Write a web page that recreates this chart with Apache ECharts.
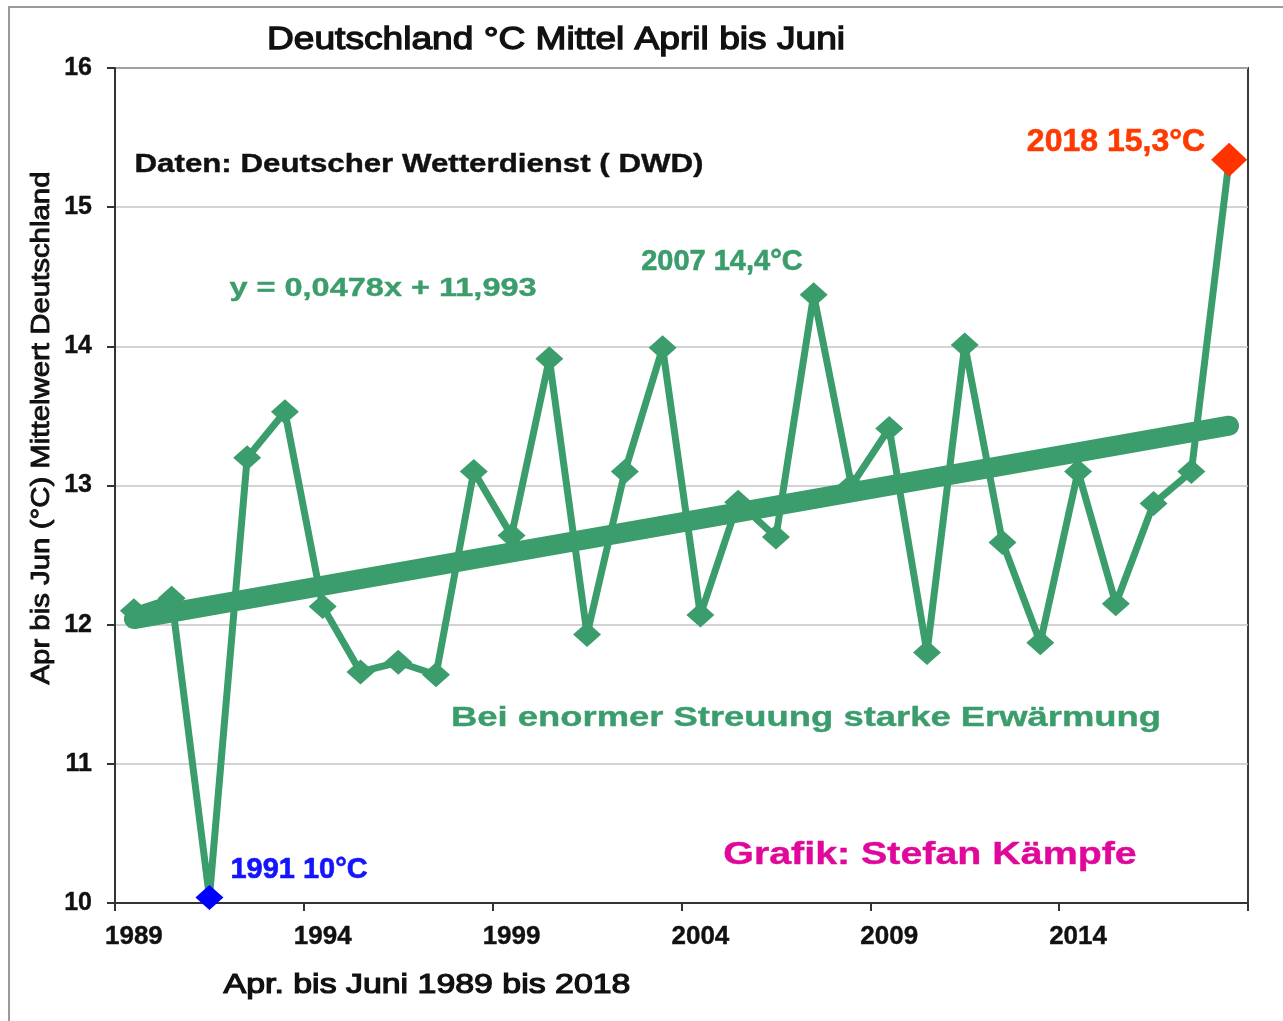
<!DOCTYPE html>
<html>
<head>
  <meta charset="utf-8">
  <title>Deutschland Mittel April bis Juni</title>
  <style>
html, body {
  margin: 0;
  padding: 0;
  background: #fff;
}

#chart {
  width: 1283px;
  height: 1021px;
}
  </style>
</head>
<body>
	<div id="chart"></div>

	<script src="https://cdn.jsdelivr.net/npm/echarts@6/dist/echarts.min.js"></script>
	<script>
	// Apr-Jun mean temperature in Germany (DWD), 1989-2018
	const years = ['1989', '1990', '1991', '1992', '1993', '1994', '1995', '1996', '1997', '1998',
		'1999', '2000', '2001', '2002', '2003', '2004', '2005', '2006', '2007', '2008',
		'2009', '2010', '2011', '2012', '2013', '2014', '2015', '2016', '2017', '2018'];
	const temps = [12.10, 12.19, 10.04, 13.20, 13.53, 12.13, 11.66, 11.73, 11.64, 13.10,
		12.64, 13.91, 11.93, 13.10, 13.99, 12.07, 12.88, 12.63, 14.37, 13.00,
		13.41, 11.80, 14.01, 12.59, 11.87, 13.10, 12.15, 12.87, 13.10, 15.34];

	// linear trend y = 0,0478x + 11,993, start and end values
	const trendYears = ['1989', '2018'];
	const trendValues = [12.04, 13.43];

	// annotated years
	const noteYears = ['1991', '2007', '2018'];
	const noteTexts = ['1991 10°C', '2007 14,4°C', '2018 15,3°C'];
	const noteColors = ['#1414ff', '#3b9d6b', '#ff3a00'];
	const noteMarkers = ['#0000ff', null, '#ff3300'];

	const yTicks = { min: 10, max: 16, step: 1 };

	const GREEN = '#3b9d6b';
	const FONT = '"Liberation Sans", Arial, sans-serif';

	const pointData = temps.map((v, i) => {
		const k = noteYears.indexOf(years[i]);
		if (k < 0) return v;
		const item = { value: v };
		if (noteMarkers[k]) item.itemStyle = { color: noteMarkers[k] };
		if (years[i] === '2018') item.symbolSize = [36, 34];
		const lbl = {
			show: true,
			formatter: noteTexts[k],
			color: noteColors[k],
			textBorderColor: noteColors[k],
			textBorderWidth: 0.6,
			fontFamily: FONT,
			fontWeight: 'bold',
			fontSize: 29
		};
		if (years[i] === '1991') Object.assign(lbl, { position: 'right', distance: 7, offset: [0, -27] });
		if (years[i] === '2007') Object.assign(lbl, { position: 'left', distance: -3, offset: [0, -33] });
		if (years[i] === '2018') Object.assign(lbl, { position: 'left', distance: 6, offset: [0, -18], fontSize: 32 });
		item.label = lbl;
		return item;
	});

	const txt = (text, x, y, size, color, weight, sx, rot, thick) => ({
		type: 'text',
		x: x,
		y: y,
		scaleX: sx,
		rotation: rot || 0,
		z: 100,
		style: {
			text: text,
			fill: color,
			stroke: color,
			lineWidth: thick || 0.4,
			font: `${weight} ${size}px ${FONT}`,
			align: 'center',
			verticalAlign: 'middle'
		}
	});

	const chart = echarts.init(document.getElementById('chart'), null, { renderer: 'canvas' });

	chart.setOption({
		animation: false,
		backgroundColor: '#fff',
		grid: {
			left: 115,
			right: 35,
			top: 68,
			bottom: 118,
			show: true,
			borderColor: '#3a3a3a',
			borderWidth: 2
		},
		xAxis: {
			type: 'category',
			data: years,
			boundaryGap: true,
			axisLine: { lineStyle: { color: '#333', width: 2 } },
			axisTick: { show: true, interval: 4, length: 8, lineStyle: { color: '#333', width: 2 } },
			axisLabel: {
				interval: 4, margin: 21, color: '#111', fontFamily: FONT, fontWeight: 'bold', fontSize: 26,
				textBorderColor: '#111', textBorderWidth: 0.4
			},
			splitLine: { show: false }
		},
		yAxis: {
			type: 'value',
			min: yTicks.min,
			max: yTicks.max,
			interval: yTicks.step,
			axisLine: { show: true, lineStyle: { color: '#333', width: 2 } },
			axisTick: { show: true, length: 8, lineStyle: { color: '#333', width: 2 } },
			axisLabel: {
				margin: 23, color: '#111', fontFamily: FONT, fontWeight: 'bold', fontSize: 25,
				textBorderColor: '#111', textBorderWidth: 0.4
			},
			splitLine: { lineStyle: { color: '#c4c4c4', width: 1.5 } }
		},
		series: [
			{
				name: 'trend',
				type: 'line',
				data: trendYears.map((y, i) => [y, trendValues[i]]),
				symbol: 'none',
				lineStyle: { color: GREEN, width: 20, cap: 'round' },
				z: 3,
				silent: true
			},
			{
				name: 'temp',
				type: 'line',
				data: pointData,
				symbol: 'diamond',
				symbolSize: [28, 25],
				itemStyle: { color: GREEN },
				lineStyle: { color: GREEN, width: 7 },
				z: 2
			}
		],
		graphic: [
			{
				type: 'rect',
				shape: { x: 9, y: 7, width: 1400, height: 1100 },
				style: { fill: 'none', stroke: '#9a9a9a', lineWidth: 2 },
				z: 100
			},
			txt('Deutschland °C Mittel April bis Juni', 556, 40, 32, '#111', 'normal', 1.16, 0, 1.3),
			txt('Apr. bis Juni 1989 bis 2018', 427, 985, 28, '#111', 'normal', 1.21, 0, 1.2),
			txt('Apr bis Jun (°C) Mittelwert Deutschland', 42, 428, 26, '#111', 'normal', 1.13, Math.PI / 2, 0.9),
			txt('Daten: Deutscher Wetterdienst ( DWD)', 419, 165, 25, '#111', 'bold', 1.25),
			txt('y = 0,0478x + 11,993', 383, 289, 26, GREEN, 'bold', 1.25),
			txt('Bei enormer Streuung starke Erwärmung', 806, 718, 28, GREEN, 'bold', 1.3),
			txt('Grafik: Stefan Kämpfe', 930, 855, 31, '#e0089b', 'bold', 1.27)
		]
	});
	</script>
</body>
</html>
